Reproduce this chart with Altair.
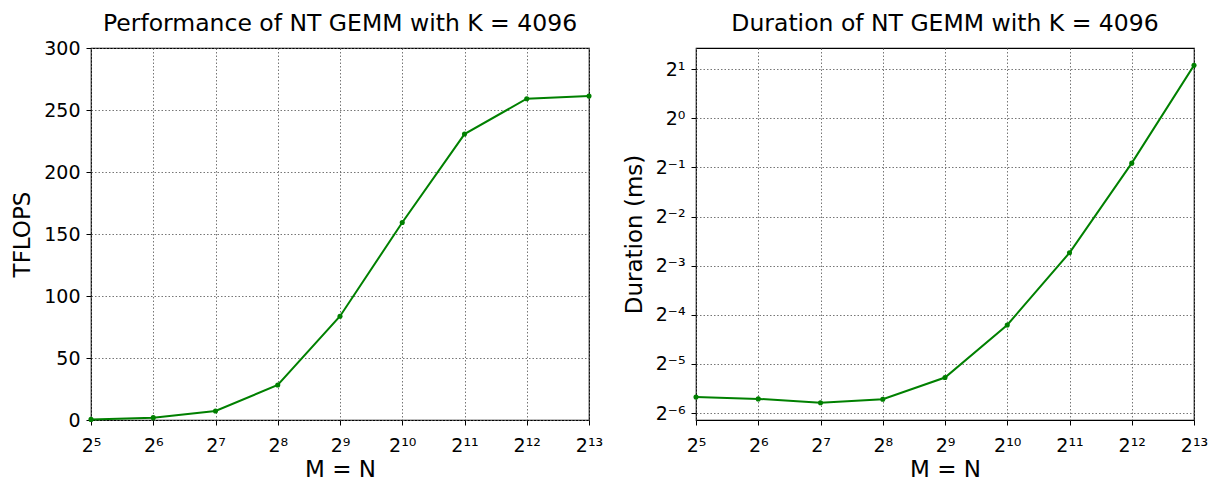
import altair as alt
import pandas as pd

# ---- data ----
sizes = [32, 64, 128, 256, 512, 1024, 2048, 4096, 8192]
tflops = [0.5, 1.9, 7.3, 28.2, 83.7, 159.3, 230.6, 259.1, 261.2]
duration_ms = [0.0196, 0.0191, 0.0181, 0.0190, 0.0258, 0.0542, 0.150, 0.531, 2.11]

x_tick_values = [32, 64, 128, 256, 512, 1024, 2048, 4096, 8192]
x_tick_labels = ["2⁵", "2⁶", "2⁷", "2⁸", "2⁹", "2¹⁰", "2¹¹", "2¹²", "2¹³"]
y_left_ticks = [0, 50, 100, 150, 200, 250, 300]
y_right_ticks = [2 ** -6, 2 ** -5, 2 ** -4, 2 ** -3, 2 ** -2, 2 ** -1, 2 ** 0, 2 ** 1]
y_right_labels = ["2⁻⁶", "2⁻⁵", "2⁻⁴", "2⁻³", "2⁻²", "2⁻¹", "2⁰", "2¹"]
y_right_domain = [2 ** -6.14, 2 ** 1.43]

df = pd.DataFrame({"size": sizes, "tflops": tflops, "duration": duration_ms})

FONT = "DejaVu Sans"
GREEN = "#008000"


def label_expr(values, labels):
    expr = "''"
    for v, lab in reversed(list(zip(values, labels))):
        expr = f"abs(datum.value - {v!r}) < {v!r} * 1e-6 ? '{lab}' : ({expr})"
    return expr


x_axis = alt.Axis(
    values=x_tick_values,
    labelExpr=label_expr(x_tick_values, x_tick_labels),
    title="M = N",
)
x_enc = alt.X(
    "size:Q",
    scale=alt.Scale(type="log", base=2, domain=[32, 8192], nice=False),
    axis=x_axis,
)

W, H = 498, 372

left_base = alt.Chart(df).encode(
    x=x_enc,
    y=alt.Y(
        "tflops:Q",
        scale=alt.Scale(domain=[0, 300], nice=False),
        axis=alt.Axis(values=y_left_ticks, title="TFLOPS"),
    ),
)
left = (
    left_base.mark_line(color=GREEN, strokeWidth=2)
    + left_base.mark_point(color=GREEN, filled=True, size=26, opacity=1)
).properties(
    width=W,
    height=H,
    title=alt.TitleParams("Performance of NT GEMM with K = 4096", offset=4),
)

right_base = alt.Chart(df).encode(
    x=x_enc,
    y=alt.Y(
        "duration:Q",
        scale=alt.Scale(type="log", base=2, domain=y_right_domain, nice=False),
        axis=alt.Axis(
            values=y_right_ticks,
            labelExpr=label_expr(y_right_ticks, y_right_labels),
            title="Duration (ms)",
        ),
    ),
)
right = (
    right_base.mark_line(color=GREEN, strokeWidth=2, clip=True)
    + right_base.mark_point(color=GREEN, filled=True, size=26, opacity=1, clip=False)
).properties(
    width=W,
    height=H,
    title=alt.TitleParams("Duration of NT GEMM with K = 4096", offset=13),
)

chart = (
    alt.hconcat(left, right, spacing=107, bounds="flush")
    .properties(padding={"left": 3, "top": 2, "right": 0, "bottom": 0})
    .configure(font=FONT)
    .configure_view(stroke="black", strokeWidth=1.2)
    .configure_title(
        font=FONT,
        fontSize=23.5,
        fontWeight="normal",
        color="black",
        anchor="middle",
    )
    .configure_axis(
        labelFont=FONT,
        titleFont=FONT,
        labelFontSize=19,
        titleFontSize=23,
        titleFontWeight="normal",
        labelColor="black",
        titleColor="black",
        domain=False,
        tickColor="black",
        tickSize=5,
        tickWidth=1,
        grid=True,
        gridColor="#666666",
        gridDash=[1.5, 2],
        gridWidth=0.9,
        gridOpacity=1,
    )
    .configure_axisY(titlePadding=9, labelPadding=6, labelFlush=False)
    .configure_axisX(titlePadding=3, labelPadding=11, labelFlush=False)
)

chart.save("out.html", embed_options={"renderer": "svg", "actions": False})
